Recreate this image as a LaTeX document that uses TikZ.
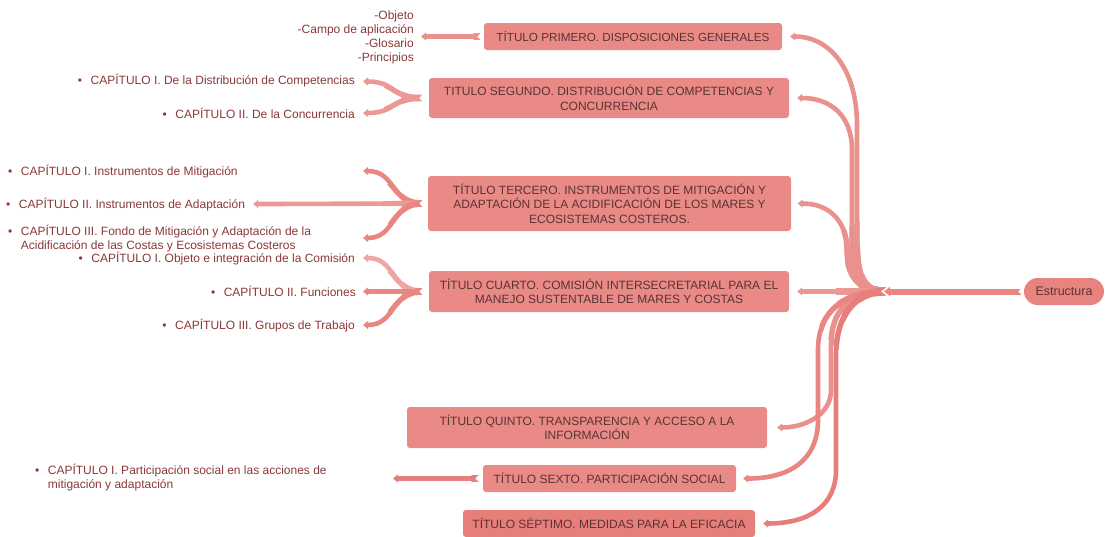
\documentclass[tikz,border=0pt]{standalone}
\usepackage{fontspec}
\setmainfont{Liberation Sans}
\usetikzlibrary{arrows.meta}
\definecolor{boxfill}{HTML}{E98A86}
\definecolor{boxdark}{HTML}{E67E7A}
\definecolor{estfill}{HTML}{E8847F}
\definecolor{boxtext}{HTML}{5A3434}
\definecolor{leaftext}{HTML}{8A3838}
\definecolor{lnA}{HTML}{EA918D}
\definecolor{lnB}{HTML}{EC9995}
\definecolor{lnC}{HTML}{E98682}
\definecolor{lnD}{HTML}{E67F7B}
\definecolor{lnE}{HTML}{EFA5A2}
\newcommand\taperpath[4]{% #1 colour, #2 centre, #3 list macro, #4 path
  \draw[#1, line width=4.6pt, -{Triangle[width=8pt,length=5pt]}] #4;
  \foreach \tprad/\tpwid in #3{%
    \begin{scope}
      \clip (#2) circle[radius=\tprad pt];
      \draw[#1, line width=\tpwid pt] #4;
    \end{scope}}%
}
\newcommand\notchat[1]{\fill[white] (#1) ++(1.5,-5) -- ++(-5,5) -- ++(5,5) -- cycle;}
\newcommand\bul{\textbullet\hspace{8.5pt}}
\newcommand\hubtaper{75/5.4,50/6.2,28/7,12/7.8}
\newcommand\leaftaper{40/5.2,22/5.8,8/6.4}
\tikzset{
  titlebox/.style={fill=boxfill, rounded corners=3pt, text=boxtext, align=center, inner sep=0pt, font=\fontsize{12}{14.5}\selectfont},
  leaf/.style={text=leaftext, inner sep=0pt, font=\fontsize{12}{14.3}\selectfont},
}
\begin{document}
\begin{tikzpicture}[x=1pt,y=-1pt]
\useasboundingbox (0,0) rectangle (1105,536);
% ---- title boxes
\node[titlebox, minimum width=298pt, minimum height=27pt, font=\fontsize{11.7}{14.5}\selectfont] (t1) at (633,36.5) {TÍTULO PRIMERO. DISPOSICIONES GENERALES};
\node[titlebox, minimum width=360pt, minimum height=40pt] (t2) at (609,98) {TITULO SEGUNDO. DISTRIBUCIÓN DE COMPETENCIAS Y\\CONCURRENCIA};
\node[titlebox, minimum width=363pt, minimum height=55pt] (t3) at (609.5,203.5) {TÍTULO TERCERO. INSTRUMENTOS DE MITIGACIÓN Y\\ADAPTACIÓN DE LA ACIDIFICACIÓN DE LOS MARES Y\\ECOSISTEMAS COSTEROS.};
\node[titlebox, minimum width=360pt, minimum height=41pt] (t4) at (609,291.5) {TÍTULO CUARTO. COMISIÓN INTERSECRETARIAL PARA EL\\MANEJO SUSTENTABLE DE MARES Y COSTAS};
\node[titlebox, minimum width=360pt, minimum height=41pt] (t5) at (587,427.5) {TÍTULO QUINTO. TRANSPARENCIA Y ACCESO A LA\\INFORMACIÓN};
\node[titlebox, minimum width=253pt, minimum height=27pt] (t6) at (609.5,478.5) {TÍTULO SEXTO. PARTICIPACIÓN SOCIAL};
\node[titlebox, fill=boxdark, minimum width=292pt, minimum height=27pt] (t7) at (609,523.5) {TÍTULO SÉPTIMO. MEDIDAS PARA LA EFICACIA};
\node[fill=estfill, rounded corners=13.5pt, minimum width=80pt, minimum height=27pt, inner sep=0pt, text=boxtext, font=\fontsize{12.5}{15}\selectfont] (est) at (1064,291.5) {Estructura};
% ---- leaves
\node[leaf, anchor=base east] (lobj) at (414,19) {\begin{tabular}[t]{@{}r@{}}-Objeto\\-Campo de aplicación\\-Glosario\\-Principios\end{tabular}};
\node[leaf, anchor=base east] (l21) at (355,84) {\bul CAPÍTULO I. De la Distribución de Competencias};
\node[leaf, anchor=base east] (l22) at (355,118) {\bul CAPÍTULO II. De la Concurrencia};
\node[leaf, anchor=base west] (l31) at (8,175) {\bul CAPÍTULO I. Instrumentos de Mitigación};
\node[leaf, anchor=base west] (l32) at (6,208) {\bul CAPÍTULO II. Instrumentos de Adaptación};
\node[leaf, anchor=base west] (l33) at (8,235) {\begin{tabular}[t]{@{}l@{}}\bul CAPÍTULO III. Fondo de Mitigación y Adaptación de la\\\hphantom{\bul}Acidificación de las Costas y Ecosistemas Costeros\end{tabular}};
\node[leaf, anchor=base east] (l41) at (355,262) {\bul CAPÍTULO I. Objeto e integración de la Comisión};
\node[leaf, anchor=base east] (l42) at (356,296) {\bul CAPÍTULO II. Funciones};
\node[leaf, anchor=base east] (l43) at (355,329.5) {\bul CAPÍTULO III. Grupos de Trabajo};
\node[leaf, anchor=base west] (l61) at (35,474.5) {\begin{tabular}[t]{@{}l@{}}\bul CAPÍTULO I. Participación social en las acciones de\\\hphantom{\bul}mitigación y adaptación\end{tabular}};
% ---- coordinates
\coordinate (hub) at (886,291.5);
\coordinate (h1) at ([xshift=8pt]t1.east);
\coordinate (h2) at ([xshift=8pt]t2.east);
\coordinate (h3) at ([xshift=6.5pt]t3.east);
\coordinate (h4) at ([xshift=8pt]t4.east);
\coordinate (h5) at ([xshift=10pt]t5.east);
\coordinate (h6) at ([xshift=7pt]t6.east);
\coordinate (h7) at ([xshift=8pt]t7.east);
\coordinate (s1) at ([xshift=-3pt]t1.west);
\coordinate (s2) at ([xshift=-6pt]t2.west);
\coordinate (s3) at ([xshift=-5pt]t3.west);
\coordinate (s4) at ([xshift=-6pt]t4.west);
\coordinate (s6) at ([xshift=-4pt]t6.west);
\coordinate (e1) at (421,36.5);
\coordinate (e21) at (363,81.5);
\coordinate (e22) at (363,113);
\coordinate (e31) at (363,171);
\coordinate (e32) at ([xshift=8pt]l32.east);
\coordinate (e33) at (363,238);
\coordinate (e41) at (363,258);
\coordinate (e42) at (363,291.5);
\coordinate (e43) at (363,325);
\coordinate (e61) at (393,478.5);
\coordinate (mstart) at ([xshift=-2pt]est.west);
\coordinate (mtip) at (884,291.5);
\coordinate (mwhite) at (881,291.5);
% ---- hub branches
\taperpath{lnA}{hub}{\hubtaper}{(hub) .. controls (862,291.5) and (857,275) .. (857,240) -- (857,125) .. controls (857,70) and (830,36.5) .. (h1)}
\taperpath{lnA}{hub}{\hubtaper}{(hub) .. controls (860,291.5) and (852,275) .. (852,240) -- (852,150) .. controls (852,115) and (830,98) .. (h2)}
\taperpath{lnA}{hub}{\hubtaper}{(hub) .. controls (858,291.5) and (847,275) .. (847,250) .. controls (847,222) and (830,203.5) .. (h3)}
\taperpath{lnB}{hub}{\hubtaper}{(hub) -- (h4)}
\taperpath{lnA}{hub}{\hubtaper}{(hub) .. controls (850,291.5) and (831,310) .. (831,345) -- (831,390) .. controls (831,415) and (805,427.5) .. (h5)}
\taperpath{lnC}{hub}{\hubtaper}{(hub) .. controls (845,291.5) and (818,310) .. (818,350) -- (818,420) .. controls (818,460) and (790,478.5) .. (h6)}
\taperpath{lnD}{hub}{\hubtaper}{(hub) .. controls (855,291.5) and (836,315) .. (836,355) -- (836,470) .. controls (836,505) and (810,523.5) .. (h7)}
% ---- main line from Estructura
\draw[white, line width=9pt, -{Triangle[width=13pt,length=9pt]}] (mstart) -- (mwhite);
\draw[lnC, line width=6pt, -{Triangle[width=9pt,length=6pt]}] (mstart) -- (mtip);
\notchat{mstart}
% ---- leaf connectors
\taperpath{lnA}{s1}{\leaftaper}{(s1) -- (e1)}
\taperpath{lnB}{s2}{\leaftaper}{(s2) .. controls (390,98) and (396,81.5) .. (e21)}
\taperpath{lnB}{s2}{\leaftaper}{(s2) .. controls (390,98) and (396,113) .. (e22)}
\taperpath{lnC}{s3}{\leaftaper}{(s3) .. controls (390,203.5) and (396,171) .. (e31)}
\taperpath{lnB}{s3}{\leaftaper}{(s3) -- (e32)}
\taperpath{lnC}{s3}{\leaftaper}{(s3) .. controls (390,203.5) and (396,238) .. (e33)}
\taperpath{lnE}{s4}{\leaftaper}{(s4) .. controls (390,291.5) and (396,258) .. (e41)}
\taperpath{lnC}{s4}{\leaftaper}{(s4) -- (e42)}
\taperpath{lnC}{s4}{\leaftaper}{(s4) .. controls (390,291.5) and (396,325) .. (e43)}
\taperpath{lnD}{s6}{\leaftaper}{(s6) -- (e61)}
\notchat{s1}
\notchat{s2}
\notchat{s3}
\notchat{s4}
\notchat{s6}
\end{tikzpicture}
\end{document}
